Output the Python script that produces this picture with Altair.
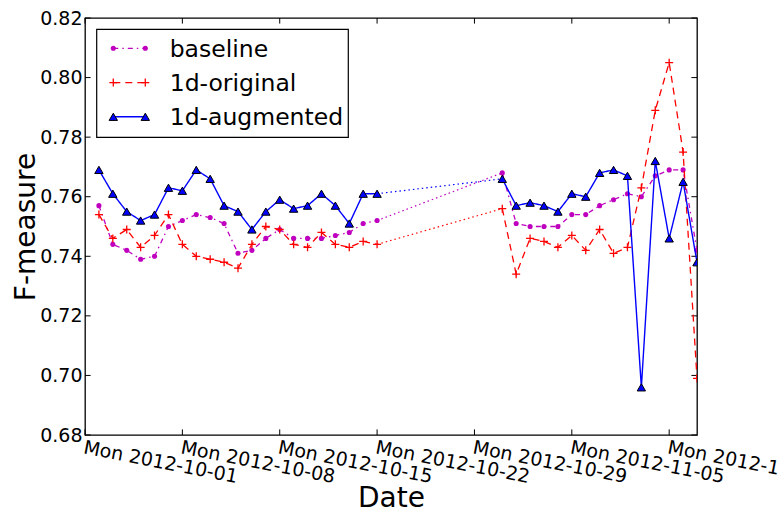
import altair as alt
import pandas as pd

# ---------------- data ----------------
series_names = ["baseline", "1d-original", "1d-augmented"]

dates_seg1 = [d.strftime("%Y-%m-%d") for d in pd.date_range("2012-10-02", "2012-10-22", freq="D")]
dates_seg2 = [d.strftime("%Y-%m-%d") for d in pd.date_range("2012-10-31", "2012-11-14", freq="D")]

baseline_seg1 = [0.757, 0.744, 0.742, 0.739, 0.740, 0.750, 0.752, 0.754, 0.753, 0.751, 0.741,
                 0.742, 0.746, 0.749, 0.746, 0.746, 0.746, 0.747, 0.748, 0.751, 0.752]
baseline_seg2 = [0.768, 0.751, 0.750, 0.750, 0.750, 0.754, 0.754, 0.757, 0.759, 0.761, 0.760,
                 0.767, 0.769, 0.769, 0.742]

original_seg1 = [0.754, 0.746, 0.749, 0.743, 0.747, 0.754, 0.744, 0.740, 0.739, 0.738, 0.736,
                 0.744, 0.750, 0.749, 0.744, 0.743, 0.748, 0.744, 0.743, 0.745, 0.744]
original_seg2 = [0.756, 0.734, 0.746, 0.745, 0.743, 0.747, 0.742, 0.749, 0.741, 0.743, 0.763,
                 0.789, 0.805, 0.775, 0.699]

augmented_seg1 = [0.769, 0.761, 0.755, 0.752, 0.754, 0.763, 0.762, 0.769, 0.766, 0.757, 0.755,
                  0.749, 0.755, 0.759, 0.756, 0.757, 0.761, 0.757, 0.751, 0.761, 0.761]
augmented_seg2 = [0.766, 0.757, 0.758, 0.757, 0.755, 0.761, 0.760, 0.768, 0.769, 0.767, 0.696,
                  0.772, 0.746, 0.765, 0.738]

x_tick_dates = ["2012-10-01", "2012-10-08", "2012-10-15", "2012-10-22",
                "2012-10-29", "2012-11-05", "2012-11-12"]
y_tick_values = [0.68, 0.70, 0.72, 0.74, 0.76, 0.78, 0.80, 0.82]

# ---------------- helpers ----------------
W, H = 612, 417
FONT = "DejaVu Sans"
TL = 5.6  # tick length


def dt(s):
    y, m, d = (int(p) for p in s.split("-"))
    return alt.DateTime(year=y, month=m, date=d, utc=True)


xscale = alt.Scale(type="utc", domain=[dt("2012-10-01"), dt("2012-11-14")], nice=False)
yscale = alt.Scale(domain=[0.68, 0.82], nice=False, zero=False)

x_axis = alt.Axis(values=[dt(s) for s in x_tick_dates],
                  labelExpr="utcFormat(datum.value, '%a %Y-%m-%d')",
                  labelAngle=11, labelAlign="left", labelBaseline="top", labelPadding=3,
                  labelFontSize=19, labelFont=FONT, labelColor="black",
                  labelFlush=False, labelOverlap=False, labelBound=False,
                  ticks=False, tickSize=0, domain=False, grid=False,
                  title="Date", titleFontSize=28, titleFont=FONT, titleFontWeight="normal",
                  titleColor="black", titleY=71, titleBaseline="alphabetic")
y_axis = alt.Axis(values=y_tick_values, format=".2f",
                  labelFontSize=19, labelFont=FONT, labelColor="black", labelPadding=3,
                  labelFlush=False, labelOverlap=False,
                  ticks=False, tickSize=0, domain=False, grid=False,
                  title="F-measure", titleFontSize=28, titleFont=FONT, titleFontWeight="normal",
                  titleColor="black", titleX=-51, titleBaseline="alphabetic", titleAlign="center")

styles = {
    "baseline": dict(color="#bf00bf", dash=[5, 4, 1.5, 4], width=1.3),
    "1d-original": dict(color="#ff0000", dash=[7, 5], width=1.3),
    "1d-augmented": dict(color="#0000ff", dash=[1, 0], width=1.4),
}
seg_data = {
    "baseline": (baseline_seg1, baseline_seg2),
    "1d-original": (original_seg1, original_seg2),
    "1d-augmented": (augmented_seg1, augmented_seg2),
}

PLUS = "M-1,0L1,0M0,-1L0,1"


def point_mark(name):
    st = styles[name]
    if name == "baseline":
        return dict(shape="circle", filled=True, size=26, color=st["color"], opacity=1, strokeWidth=0)
    if name == "1d-original":
        return dict(shape=PLUS, filled=False, size=64, color=st["color"], opacity=1, strokeWidth=1.3)
    return dict(shape="triangle-up", filled=True, size=70, fill=st["color"], stroke="black",
                strokeWidth=1, opacity=1)


layers = []

# inward ticks on all four sides
xt = pd.DataFrame({"t": x_tick_dates})
yt = pd.DataFrame({"v": y_tick_values})
XT = alt.X("t:T", scale=xscale, axis=x_axis, title="Date")
YT = alt.Y("v:Q", scale=yscale, axis=y_axis, title="F-measure")
layers.append(alt.Chart(xt).mark_rule(color="black", strokeWidth=1).encode(
    x=XT, y=alt.value(H), y2=alt.value(H - TL)))
layers.append(alt.Chart(xt).mark_rule(color="black", strokeWidth=1).encode(
    x=XT, y=alt.value(0), y2=alt.value(TL)))
layers.append(alt.Chart(yt).mark_rule(color="black", strokeWidth=1).encode(
    y=YT, x=alt.value(0), x2=alt.value(TL)))
layers.append(alt.Chart(yt).mark_rule(color="black", strokeWidth=1).encode(
    y=YT, x=alt.value(W - TL), x2=alt.value(W)))

X = alt.X("date:T", scale=xscale, axis=x_axis, title="Date")
Y = alt.Y("value:Q", scale=yscale, axis=y_axis, title="F-measure")

for name in series_names:
    s1, s2 = seg_data[name]
    st = styles[name]
    df = pd.DataFrame({
        "date": dates_seg1 + dates_seg2,
        "value": s1 + s2,
        "seg": [1] * len(s1) + [2] * len(s2),
    })
    bridge = pd.DataFrame({"date": [dates_seg1[-1], dates_seg2[0]], "value": [s1[-1], s2[0]]})
    layers.append(alt.Chart(df).mark_line(color=st["color"], strokeWidth=st["width"],
                                          strokeDash=st["dash"], clip=True).encode(
        x=X, y=Y, detail="seg:N"))
    layers.append(alt.Chart(bridge).mark_line(color=st["color"], strokeWidth=1.2,
                                              strokeDash=[1.5, 3], clip=True).encode(x=X, y=Y))
    layers.append(alt.Chart(df).mark_point(clip=True, **point_mark(name)).encode(x=X, y=Y))

# legend (manual, matplotlib-like)
one = pd.DataFrame({"k": [0]})
layers.append(alt.Chart(one).mark_rect(fill="white", stroke="black", strokeWidth=1.2).encode(
    x=alt.value(11.7), x2=alt.value(263.3), y=alt.value(11.3), y2=alt.value(119.3)))
row_y = [30.3, 64.6, 98.8]
for i, name in enumerate(series_names):
    st = styles[name]
    ly = row_y[i]
    layers.append(alt.Chart(one).mark_rule(color=st["color"], strokeWidth=st["width"],
                                           strokeDash=st["dash"]).encode(
        x=alt.value(28.3), x2=alt.value(60.3), y=alt.value(ly)))
    for px in (28.3, 60.3):
        layers.append(alt.Chart(one).mark_point(**point_mark(name)).encode(
            x=alt.value(px), y=alt.value(ly)))
    layers.append(alt.Chart(pd.DataFrame({"label": [name]})).mark_text(
        align="left", baseline="alphabetic", fontSize=23.5, font=FONT, color="black").encode(
        x=alt.value(84.7), y=alt.value(ly + 8.4), text="label:N"))

chart = alt.layer(*layers).properties(
    width=W, height=H,
    autosize=alt.AutoSizeParams(type="none"),
    padding={"left": 85, "top": 18, "right": 780 - 85 - W, "bottom": 510 - 18 - H},
    background="white",
).configure(font=FONT).configure_view(stroke="black", strokeWidth=1.3)

chart.save("out.html", embed_options={"renderer": "svg", "actions": False})
